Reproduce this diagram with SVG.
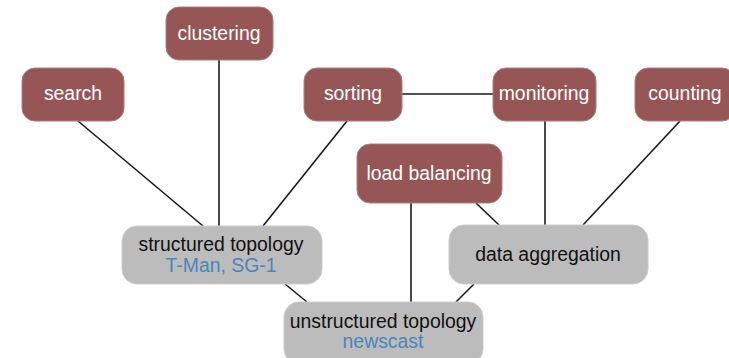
<svg xmlns="http://www.w3.org/2000/svg" width="729" height="358" viewBox="0 0 729 358">
<style>
.red{fill:#975656;stroke:#b07c7c;stroke-width:1}
.gray{fill:#bcbcbc;stroke:#cccccc;stroke-width:1}
text{font-family:"Liberation Sans",Arial,sans-serif;font-size:19.4px;text-anchor:middle}
.w{fill:#ffffff}
.k{fill:#111111}
.b{fill:#4a86b9}
.edge{stroke:#1a1a1a;stroke-width:1.6;fill:none}
</style>
<rect width="729" height="358" fill="#ffffff"/>
<g id="connectors">
<line class="edge" x1="78" y1="121" x2="203" y2="226"/>
<line class="edge" x1="219" y1="60" x2="219" y2="226"/>
<line class="edge" x1="347" y1="121" x2="263" y2="226"/>
<line class="edge" x1="402" y1="94" x2="493" y2="94"/>
<line class="edge" x1="545" y1="121" x2="545" y2="225"/>
<line class="edge" x1="680" y1="121" x2="583" y2="225"/>
<line class="edge" x1="476" y1="203" x2="499" y2="225"/>
<line class="edge" x1="411" y1="203" x2="411" y2="302"/>
<line class="edge" x1="285" y1="284" x2="307" y2="302"/>
<line class="edge" x1="474" y1="284" x2="456" y2="302"/>
</g>
<g id="search"><rect class="red" x="22" y="68" width="102" height="53" rx="13"/><text class="w" x="73" y="100">search</text></g>
<g id="clustering"><rect class="red" x="166" y="7" width="107" height="53" rx="13"/><text class="w" x="219" y="40">clustering</text></g>
<g id="sorting"><rect class="red" x="304" y="68" width="98" height="53" rx="13"/><text class="w" x="353" y="100">sorting</text></g>
<g id="monitoring"><rect class="red" x="493" y="68" width="103" height="53" rx="13"/><text class="w" x="544" y="100">monitoring</text></g>
<g id="counting"><rect class="red" x="635" y="68" width="100" height="53" rx="13"/><text class="w" x="685" y="100">counting</text></g>
<g id="load-balancing"><rect class="red" x="357" y="144" width="145" height="59" rx="13"/><text class="w" x="429" y="180">load balancing</text></g>
<g id="structured-topology"><rect class="gray" x="122" y="226" width="200" height="58" rx="15"/><text class="k" x="221" y="251">structured topology</text><text class="b" x="221" y="272">T-Man, SG-1</text></g>
<g id="data-aggregation"><rect class="gray" x="449" y="225" width="199" height="59" rx="15"/><text class="k" x="548" y="261">data aggregation</text></g>
<g id="unstructured-topology"><rect class="gray" x="284" y="302" width="199" height="62" rx="15"/><text class="k" x="383" y="328">unstructured topology</text><text class="b" x="383" y="348">newscast</text></g>
</svg>
